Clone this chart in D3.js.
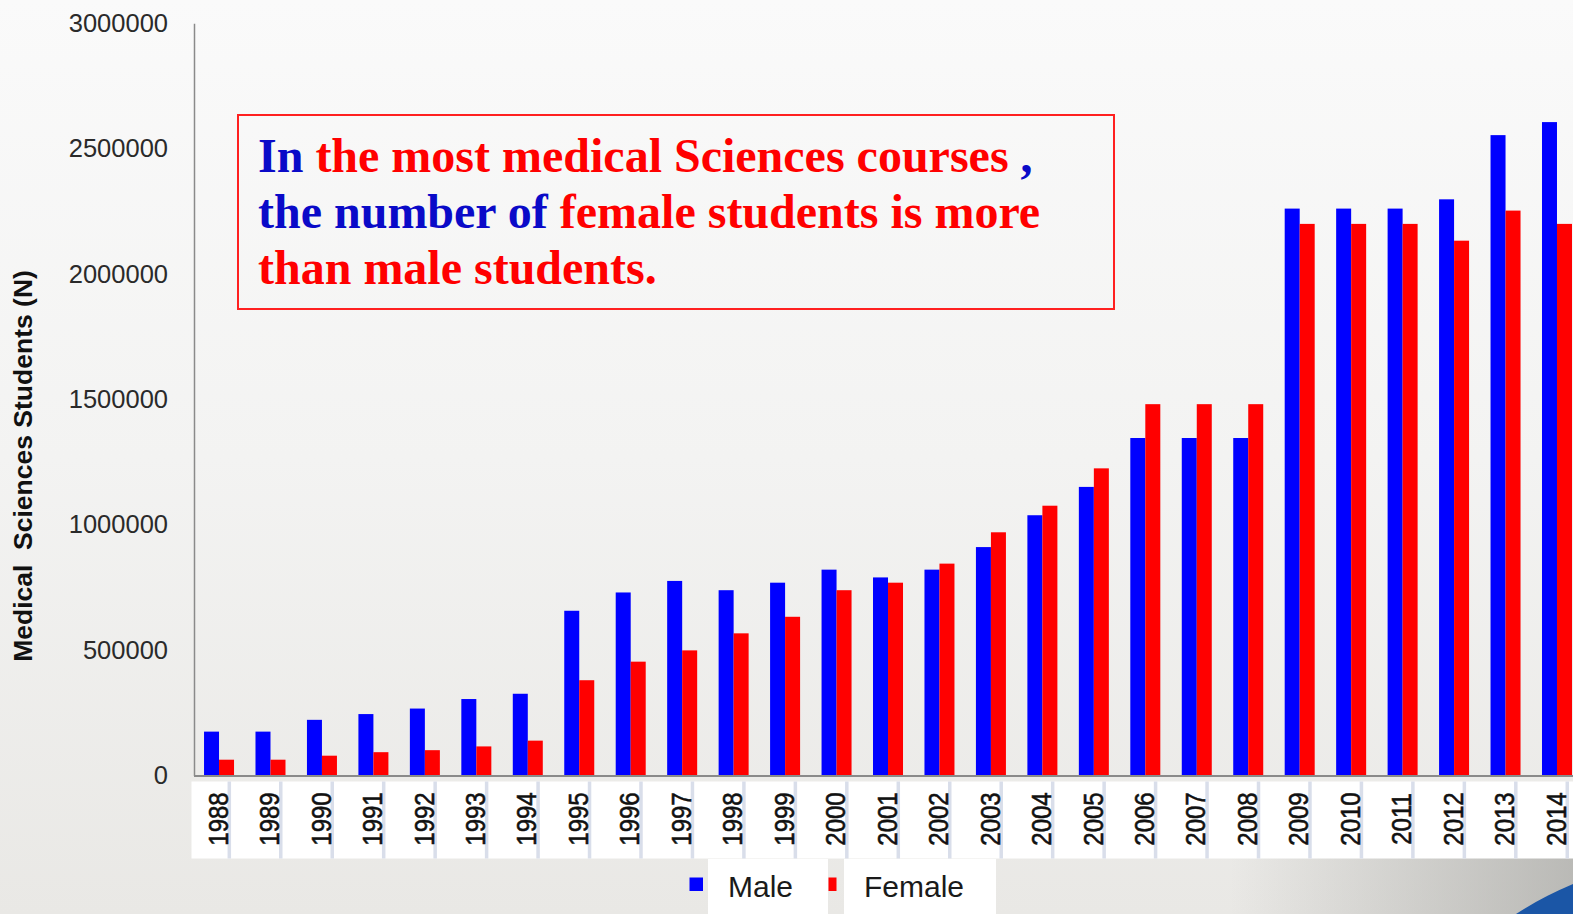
<!DOCTYPE html>
<html>
<head>
<meta charset="utf-8">
<script src="https://cdn.jsdelivr.net/npm/d3@7"></script>
<style>
  html, body { margin: 0; padding: 0; overflow: hidden; }
  svg { display: block; }
</style>
</head>
<body>
<svg id="chart" width="1573" height="914"></svg>
<script>
const years = ["1988","1989","1990","1991","1992","1993","1994","1995","1996","1997","1998","1999","2000","2001","2002","2003","2004","2005","2006","2007","2008","2009","2010","2011","2012","2013","2014"];
const male = [175000,175000,222000,245000,267000,305000,326000,657000,730000,776000,739000,769000,821000,790000,821000,911000,1038000,1151000,1346000,1346000,1346000,2261000,2261000,2261000,2298000,2554000,2606000];
const female = [63000,63000,79000,93000,101000,116000,139000,380000,454000,499000,567000,633000,739000,769000,845000,970000,1076000,1225000,1481000,1481000,1481000,2200000,2200000,2200000,2133000,2253000,2200000];
const yTicks = [0,500000,1000000,1500000,2000000,2500000,3000000];
const seriesNames = ["Male","Female"];
const seriesColors = ["#0000ff","#ff0000"];
const yTitle = "Medical  Sciences Students (N)";
const noteLines = [
  [{t:"In ", c:"blue"},{t:"the most medical Sciences courses ", c:"red"},{t:",", c:"blue"}],
  [{t:"the number of ", c:"blue"},{t:"female students is more", c:"red"}],
  [{t:"than male students.", c:"red"}]
];

const W = 1573, H = 914;
const svg = d3.select("#chart");
const defs = svg.append("defs");

// background
const bg = defs.append("linearGradient").attr("id","bg").attr("x1",0).attr("y1",0).attr("x2",0).attr("y2",1);
bg.append("stop").attr("offset","0").attr("stop-color","#fafafa");
bg.append("stop").attr("offset","0.5").attr("stop-color","#f3f3f2");
bg.append("stop").attr("offset","1").attr("stop-color","#e9e8e5");
svg.append("rect").attr("width",W).attr("height",H).attr("fill","url(#bg)");

const shade = defs.append("linearGradient").attr("id","shade").attr("x1",0).attr("y1",0).attr("x2",1).attr("y2",0);
shade.append("stop").attr("offset","0").attr("stop-color","#9a9a96").attr("stop-opacity",0);
shade.append("stop").attr("offset","1").attr("stop-color","#9a9a96").attr("stop-opacity",0.6);
svg.append("path").attr("d","M1230,914 L1230,858 L1573,858 L1573,914 Z").attr("fill","url(#shade)");

// scales
const step = 51.46;
const x0 = 193.3;
const x = d3.scaleBand().domain(years).range([x0, x0 + years.length*step]).paddingInner(0.417).paddingOuter(0.2085);
const xs = d3.scaleBand().domain(seriesNames).range([0, x.bandwidth()]);
const y = d3.scaleLinear().domain([0, 3000000]).range([775.5, 23.3]);

// category cells
svg.append("rect").attr("x",191.5).attr("y",781.5).attr("width",W-191.5).attr("height",77).attr("fill","#ffffff");
svg.append("g").selectAll("rect").data(years).join("rect")
  .attr("x", d => x(d) - x.step()*x.paddingInner()/2 + x.step() - 6.5 - 10.7)
  .attr("y",781.5).attr("width",3.5).attr("height",77).attr("fill","#d9deea");

// bars
const groups = svg.append("g").selectAll("g").data(years).join("g")
  .attr("transform", d => `translate(${x(d)},0)`);
groups.append("rect").attr("x", xs("Male")).attr("width", xs.bandwidth())
  .attr("y", (d,i) => y(male[i])).attr("height", (d,i) => y(0) - y(male[i])).attr("fill", seriesColors[0]);
groups.append("rect").attr("x", xs("Female")).attr("width", xs.bandwidth())
  .attr("y", (d,i) => y(female[i])).attr("height", (d,i) => y(0) - y(female[i])).attr("fill", seriesColors[1]);

// y axis
const yAxis = svg.append("g").attr("transform","translate(194,0)")
  .call(d3.axisLeft(y).tickValues(yTicks).tickSize(0).tickPadding(26).tickFormat(d3.format("d")));
yAxis.select(".domain").attr("stroke","#8a8a8a").attr("stroke-width",1.5);
yAxis.selectAll("text").attr("font-family","'Liberation Sans', Arial, sans-serif").attr("font-size",25.5).attr("fill","#2a2a2a");

// x axis baseline + labels
svg.append("line").attr("x1",194).attr("x2",W).attr("y1",776).attr("y2",776).attr("stroke","#8a8a8a").attr("stroke-width",2);
const xAxis = svg.append("g").attr("transform","translate(-1,776)")
  .call(d3.axisBottom(x).tickSize(0));
xAxis.select(".domain").remove();
xAxis.selectAll("text")
  .attr("font-family","'Liberation Sans', Arial, sans-serif").attr("font-size",24).attr("fill","#111")
  .attr("stroke","#111").attr("stroke-width",0.5)
  .attr("transform","rotate(-90) scale(1,1.15)").attr("text-anchor","middle")
  .attr("x",-43).attr("y",0).attr("dy","0.35em");

// y title
svg.append("text").attr("transform","translate(23,466) rotate(-90)")
  .attr("text-anchor","middle").attr("dy","0.35em")
  .attr("font-family","'Liberation Sans', Arial, sans-serif").attr("font-weight","bold").attr("font-size",26.5)
  .attr("fill","#111").style("white-space","pre").text(yTitle);

// annotation box
svg.append("rect").attr("x",238).attr("y",115).attr("width",876).attr("height",194)
  .attr("fill","none").attr("stroke","#ff2020").attr("stroke-width",2);
const noteColors = {blue:"#0a0ac8", red:"#ff0000"};
const baselines = [172, 228, 284];
noteLines.forEach((line, li) => {
  const t = svg.append("text").attr("x",258).attr("y",baselines[li])
    .attr("font-family","'Liberation Serif', 'Times New Roman', serif").attr("font-weight","bold").attr("font-size",48)
    .style("white-space","pre");
  line.forEach(seg => t.append("tspan").attr("fill", noteColors[seg.c]).text(seg.t));
});

// legend
const legendBoxes = [{x:708,w:120},{x:844,w:152}];
const legendMarks = [{x:689.5,w:13.5},{x:828.5,w:8}];
const legendText = [728, 864];
seriesNames.forEach((s,i) => {
  svg.append("rect").attr("x",legendBoxes[i].x).attr("y",859).attr("width",legendBoxes[i].w).attr("height",H-859).attr("fill","#fff");
  svg.append("rect").attr("x",legendMarks[i].x).attr("y",877.5).attr("width",legendMarks[i].w).attr("height",13.5).attr("fill",seriesColors[i]);
  svg.append("text").attr("x",legendText[i]).attr("y",896.5)
    .attr("font-family","'Liberation Sans', Arial, sans-serif").attr("font-size",30).attr("fill","#1a1a1a").text(s);
});

// corner decoration
svg.append("path").attr("d","M1516,914 Q1540,898 1573,884 L1573,914 Z").attr("fill","#1b56a6");
</script>
</body>
</html>
